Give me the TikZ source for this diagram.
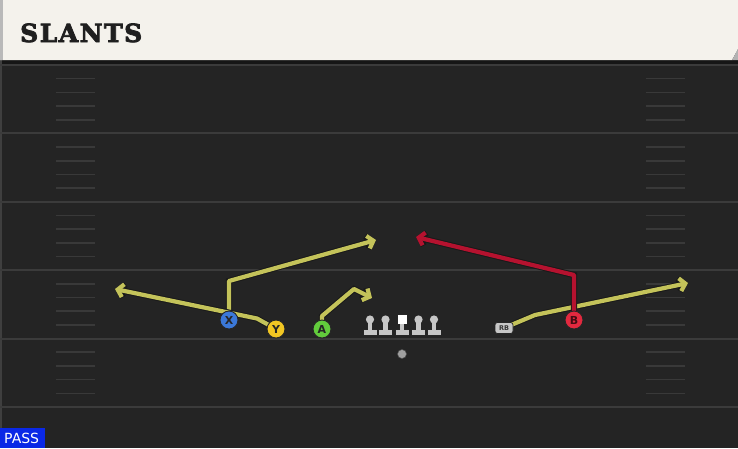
\documentclass[tikz,border=0pt]{standalone}
\usepackage{fontspec}
\usetikzlibrary{positioning,arrows.meta}

\newfontfamily\titlefont{DejaVu Serif}[FakeBold=3, LetterSpace=6]
\newfontfamily\labelfont{DejaVu Sans}

\definecolor{field}{HTML}{242424}
\definecolor{banner}{HTML}{F4F2EC}
\definecolor{yardline}{HTML}{3B3B3B}
\definecolor{hashline}{HTML}{393939}
\definecolor{routeyellow}{HTML}{C4C35A}
\definecolor{routered}{HTML}{B5122F}
\definecolor{xblue}{HTML}{3B78D8}
\definecolor{yyellow}{HTML}{F2C623}
\definecolor{agreen}{HTML}{62CC3C}
\definecolor{bred}{HTML}{E2293F}
\definecolor{mangray}{HTML}{C6C6C6}
\definecolor{passblue}{HTML}{0A28E6}

\pgfdeclarelayer{turf}
\pgfdeclarelayer{routes}
\pgfsetlayers{turf,routes,main}

\tikzset{
  player/.style={circle, draw=black!85, line width=0.9pt, minimum size=18pt, inner sep=0pt,
    font=\labelfont\bfseries\fontsize{11}{11}\selectfont, text=black!85},
  rbbox/.style={rounded corners=2.5pt, draw=black!85, line width=0.7pt, fill=mangray,
    minimum width=18pt, minimum height=11pt, inner sep=0pt,
    font=\labelfont\bfseries\fontsize{6.5}{6.5}\selectfont, text=black!80},
  ball/.style={circle, fill=gray!75, draw=black!70, line width=0.5pt, minimum size=9pt, inner sep=0pt},
  route/.style={line width=4.2pt, line join=round, draw=#1,
    -{Straight Barb[length=5.5pt,width=13pt]},
    preaction={draw=black!90, line width=6.2pt}},
  lineman/.pic={
    \fill[black!85] (-7.3,9.6) rectangle (7.3,16.4);
    \fill[black!85] (-2.9,2) rectangle (2.9,10);
    \fill[black!85] (0,0) circle (4.9);
    \fill[mangray] (-6.5,10.4) rectangle (6.5,15.6);
    \fill[mangray] (-2.1,2) rectangle (2.1,11);
    \fill[mangray] (0,0) circle (4.1);
  },
  snapper/.pic={
    \fill[black!85] (-7.3,9.6) rectangle (7.3,16.4);
    \fill[black!85] (-2.9,2) rectangle (2.9,10);
    \fill[black!85] (-5.3,-5.8) rectangle (5.3,5.2);
    \fill[mangray] (-6.5,10.4) rectangle (6.5,15.6);
    \fill[mangray] (-2.1,4) rectangle (2.1,11);
    \fill[white] (-4.5,-5) rectangle (4.5,4.4);
  }
}

\begin{document}
\begin{tikzpicture}[x=1pt,y=-1pt]
  \useasboundingbox (0,0) rectangle (738,448);
  \begin{pgfonlayer}{turf}
    \fill[field] (0,0) rectangle (738,448);
    \fill[black!40!field] (0,60) rectangle (738,64);
    \fill[gray!30!field] (0,60) rectangle (2,448);
    \foreach \k in {0,...,5}
      \draw[yardline, line width=2pt] (0,65+68.4*\k) -- (738,65+68.4*\k);
    \foreach \k in {1,...,24}{
      \pgfmathsetmacro\hy{65+13.68*\k}
      \ifnum\numexpr\k-5*(\k/5)\relax=0\else
        \draw[hashline, line width=1.6pt] (56,\hy) -- (95,\hy);
        \draw[hashline, line width=1.6pt] (646,\hy) -- (685,\hy);
      \fi
    }
    \fill[banner] (0,0) -- (738,0) -- (738,49) -- (732,60) -- (0,60) -- cycle;
    \fill[gray!55] (0,0) rectangle (2.5,60);
    \fill[gray!60] (738,49) -- (732,60) -- (738,60) -- cycle;
  \end{pgfonlayer}

  \node[anchor=base west, inner sep=0pt, text=black!88,
    font=\titlefont\bfseries\fontsize{25}{25}\selectfont] (ttl) at (20,42) {SLANTS};

  \node[player, fill=xblue] (x) at (229,320) {X};
  \node[player, fill=yyellow] (y) at (276,329) {Y};
  \node[player, fill=agreen] (a) at (322,329) {A};
  \node[player, fill=bred, text=black!70!bred] (b) at (574,320) {B};
  \node[rbbox] (rb) at (504,328) {RB};
  \node[ball] (qb) at (402,354) {};

  \coordinate (c) at (402,319.5);
  \coordinate[left=16.5pt of c] (lg);
  \coordinate[left=15.5pt of lg] (lt);
  \coordinate[right=16.5pt of c] (rg);
  \coordinate[right=15.5pt of rg] (rt);

  \coordinate[above=39pt of x.center] (xm);
  \coordinate (xe) at (376,240);
  \coordinate (ym) at (257,318.5);
  \coordinate (ye) at (115,289);
  \coordinate[above=13pt of a.center] (am);
  \coordinate (ak) at (354,289);
  \coordinate (ae) at (372,298);
  \coordinate (rm) at (535,315);
  \coordinate (re) at (688,283);
  \coordinate[above=45pt of b.center] (bm);
  \coordinate (be) at (416,237);

  \begin{pgfonlayer}{routes}
    \draw[route=routeyellow] (x.center) -- (xm) -- (xe);
    \draw[route=routeyellow] (y.center) -- (ym) -- (ye);
    \draw[route=routeyellow] (a.center) -- (am) -- (ak) -- (ae);
    \draw[route=routeyellow] (rb.center) -- (rm) -- (re);
    \draw[route=routered] (b.center) -- (bm) -- (be);
  \end{pgfonlayer}

  \pic at (lt) {lineman};
  \pic at (lg) {lineman};
  \pic at (c) {snapper};
  \pic at (rg) {lineman};
  \pic at (rt) {lineman};

  \fill[passblue] (0,428) rectangle (45,448);
  \node[anchor=base west, inner sep=0pt, text=white,
    font=\labelfont\fontsize{14}{14}\selectfont] (pass) at (4,443.5) {PASS};
\end{tikzpicture}
\end{document}
